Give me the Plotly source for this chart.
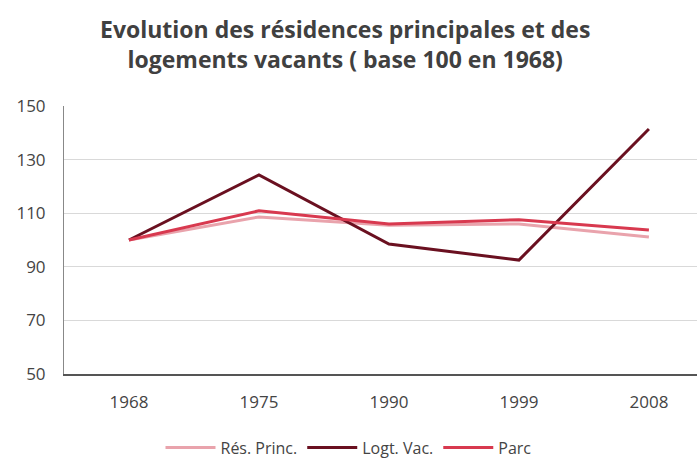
import plotly.graph_objects as go

years = ["1968", "1975", "1990", "1999", "2008"]
res_princ = [100, 108.6, 105.5, 106, 101.1]
logt_vac = [100, 124.3, 98.5, 92.5, 141.4]
parc = [100, 110.9, 106, 107.6, 103.7]

series = [
    ("Rés. Princ.", res_princ, "#E9A3AC"),
    ("Logt. Vac.", logt_vac, "#6A1020"),
    ("Parc", parc, "#D8394F"),
]

fig = go.Figure()
for name, vals, col in series:
    fig.add_trace(go.Scatter(
        x=list(range(len(years))), y=vals, name=name, mode="lines",
        line=dict(color=col, width=3),
    ))

fig.update_layout(
    width=697, height=459,
    margin=dict(l=64, r=0, t=106, b=85, autoexpand=False),
    paper_bgcolor="white", plot_bgcolor="white",
    font=dict(family="Open Sans", color="#444444"),
    showlegend=True,
    legend=dict(
        orientation="h", xref="container", x=0.5, xanchor="center",
        yref="container", y=0.025, yanchor="middle",
        font=dict(size=16, color="#444444"), traceorder="normal",
        itemwidth=50,
    ),
    annotations=[dict(
        text="<b>Evolution des résidences principales et des<br>logements vacants ( base 100 en 1968)</b>",
        xref="paper", yref="paper", x=(345 - 64) / 633, y=1 + (106 - 44) / 268,
        xanchor="center", yanchor="middle", showarrow=False,
        font=dict(family="Open Sans", size=23, color="#404040"),
        align="center",
    )],
)
fig.update_xaxes(
    tickmode="array", tickvals=list(range(len(years))), ticktext=years,
    range=[-0.5, 4.37], showgrid=False, showline=True, linecolor="#555555",
    linewidth=1.5, ticks="", tickfont=dict(size=17, color="#444444"),
    zeroline=False, automargin=False, ticklabelstandoff=12,
)
fig.update_yaxes(
    range=[50, 150], dtick=20, tick0=50, showgrid=True, gridcolor="#D9D9D9",
    gridwidth=1, showline=True, linecolor="#888888", linewidth=1, ticks="",
    tickfont=dict(size=17, color="#444444"), zeroline=False, automargin=False,
    ticklabelstandoff=14,
)

fig.write_html("out.html", config={"displayModeBar": False},
               post_script="document.body.style.margin='0';")
